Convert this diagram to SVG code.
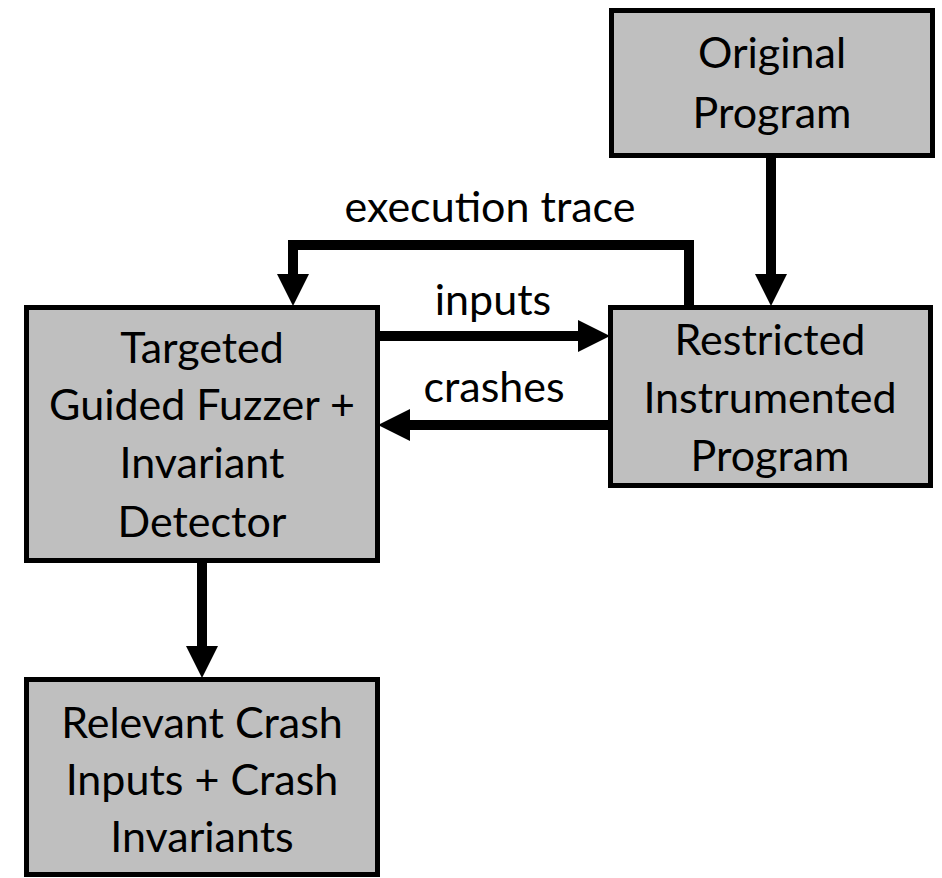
<svg xmlns="http://www.w3.org/2000/svg" width="942" height="878" viewBox="0 0 942 878">
  <style>
    .box { fill: #bfbfbf; stroke: #000; stroke-width: 5; }
    .lbl { font-family: Lato, "Open Sans", "Liberation Sans", sans-serif; font-size: 43px; fill: #000; text-anchor: middle; }
    .wire { fill: none; stroke: #000; stroke-width: 10; stroke-linejoin: miter; marker-end: url(#head); }
  </style>
  <defs>
    <marker id="head" markerUnits="userSpaceOnUse" markerWidth="32" markerHeight="32" refX="0" refY="16" orient="auto" overflow="visible">
      <path d="M0,0 L32,16 L0,32 Z" fill="#000"/>
    </marker>
  </defs>

  <rect width="942" height="878" fill="#fff"/>

  <g id="connectors">
    <path class="wire" d="M771,158 V274"/>
    <path class="wire" d="M689,305 V245 H293 V274"/>
    <path class="wire" d="M380,336 H578"/>
    <path class="wire" d="M608,425 H410"/>
    <path class="wire" d="M202,563 V646"/>
  </g>

  <g id="edge-labels">
    <text class="lbl" x="490" y="222">execution trace</text>
    <text class="lbl" x="493" y="315">inputs</text>
    <text class="lbl" x="494" y="402">crashes</text>
  </g>

  <g id="original-program">
    <rect class="box" x="611.5" y="10.5" width="321" height="145"/>
    <text class="lbl" x="772" y="68">Original</text>
    <text class="lbl" x="772" y="128">Program</text>
  </g>

  <g id="restricted-program">
    <rect class="box" x="610.5" y="307.5" width="320" height="178"/>
    <text class="lbl" x="770" y="355">Restricted</text>
    <text class="lbl" x="770" y="413">Instrumented</text>
    <text class="lbl" x="770" y="471">Program</text>
  </g>

  <g id="fuzzer">
    <rect class="box" x="26.5" y="307.5" width="351" height="253"/>
    <text class="lbl" x="202" y="363">Targeted</text>
    <text class="lbl" x="202" y="420">Guided Fuzzer +</text>
    <text class="lbl" x="202" y="478">Invariant</text>
    <text class="lbl" x="202" y="537">Detector</text>
  </g>

  <g id="crash-results">
    <rect class="box" x="26.5" y="679.5" width="351" height="195"/>
    <text class="lbl" x="202" y="738">Relevant Crash</text>
    <text class="lbl" x="202" y="795">Inputs + Crash</text>
    <text class="lbl" x="202" y="852">Invariants</text>
  </g>
</svg>
